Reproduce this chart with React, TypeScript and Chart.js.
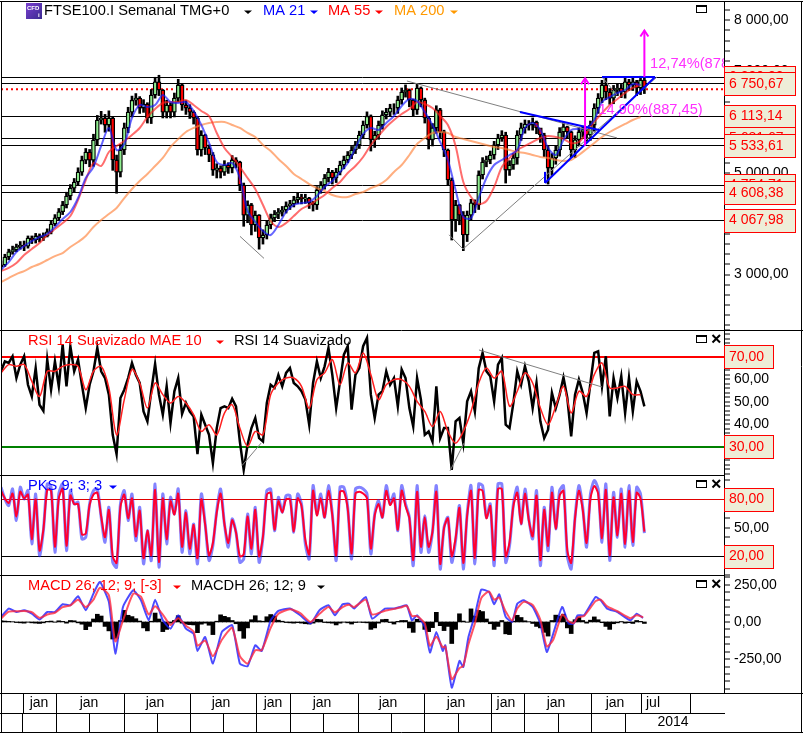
import React, { useEffect, useRef } from "react";
import { Chart, registerables } from "chart.js";

Chart.register(...registerables);

// ---------- time axis (weeks from the left edge of the panes) ----------
const weekMax = 563;
const halfYearTicks = [17.5, 43.6, 95.8, 147.2, 199.3, 225.8, 278, 329.4, 381.6, 407.3, 460.2, 498.4, 537.3];
const quarterTicks = [17.1, 43.6, 69.3, 95.8, 121.5, 147.2, 173.6, 199.3, 225.8, 251.5, 278, 303.7, 329.4, 355.9, 381.6, 407.3, 433.8, 460.2, 486.6];
const monthLabels = ["jan", "jan", "jan", "jan", "jan", "jan", "jan", "jan", "jan", "jan", "jan", "jul"];
const monthLabelWeeks = [29.6, 68.5, 119.9, 171.3, 211.8, 250, 301.4, 354.3, 393.2, 432.2, 478.1, 507.7];
const yearLabel = "2014";
const yearLabelWeek = 523.3;

// ---------- price pane ----------
const closes = [3190,3345,3450,3485,3545,3580,3560,3720,3680,3760,3720,3760,3840,3995,4115,4235,4370,4545,4700,4820,5015,5250,5410,5250,5647,6040,6080,5940,6080,5255,5015,5450,5885,6195,6430,6470,6275,6355,6080,6530,6790,6630,6195,6335,6195,6470,6730,6335,6275,6195,6080,5450,5745,5490,5355,5055,5095,5015,5155,5095,5255,5215,4760,4170,4370,3975,4170,3720,3780,3975,4115,4190,4230,4270,4350,4390,4470,4525,4490,4505,4410,4370,4665,4760,4900,5015,4900,5015,5155,5255,5350,5450,5550,5745,5940,6115,5650,5745,5940,6140,6195,6275,6275,6435,6590,6630,6435,6240,6670,6435,6080,5650,5885,6240,5805,5450,4860,4075,4370,4170,3780,4170,4410,4370,4960,5215,5255,5350,5550,5685,5745,5055,5155,5295,5745,5885,5960,5940,6000,5885,5745,5450,5095,5295,5450,5805,5905,5805,5450,5650,5805,5845,5745,5940,6275,6470,6730,6590,6470,6630,6670,6590,6790,6730,6790,6670,6825,6680];
const highs = [3270,3400,3500,3560,3600,3650,3660,3760,3760,3810,3800,3820,3900,4060,4180,4300,4440,4620,4770,4890,5100,5330,5480,5460,5760,6130,6210,6150,6220,6100,5350,5560,5980,6290,6510,6560,6500,6440,6380,6640,6880,6920,6640,6430,6380,6570,6840,6760,6420,6340,6220,6100,5830,5760,5550,5400,5180,5140,5240,5200,5340,5300,5230,4800,4450,4400,4250,4180,3880,4050,4190,4260,4300,4340,4430,4460,4540,4600,4580,4580,4520,4440,4730,4830,4970,5090,5050,5090,5230,5330,5420,5520,5620,5820,6020,6200,6140,5820,6020,6220,6270,6350,6360,6510,6670,6730,6650,6450,6750,6690,6470,6100,5970,6320,6270,5840,5470,4900,4460,4380,4240,4250,4480,4470,5040,5300,5330,5430,5620,5760,5830,5800,5240,5380,5830,5980,6040,6030,6080,6020,5840,5780,5520,5380,5530,5890,5990,5920,5820,5730,5890,5920,5860,6020,6360,6560,6820,6880,6660,6720,6760,6740,6880,6840,6880,6820,6900,6880];
const lows = [3100,3160,3290,3400,3450,3500,3470,3520,3610,3620,3640,3670,3740,3800,3960,4070,4180,4310,4470,4620,4750,4950,5180,5120,5130,5550,5960,5800,5820,5050,4600,4920,5360,5790,6100,6330,6170,6190,5980,5970,6470,6520,6080,6080,6080,6100,6400,6230,6150,6070,5960,5350,5330,5360,5220,4950,4900,4900,4950,4990,5000,5100,4650,3950,4020,3780,3850,3500,3600,3700,3900,4040,4100,4150,4210,4280,4330,4400,4390,4400,4300,4250,4280,4600,4680,4820,4780,4810,4960,5080,5200,5280,5380,5480,5680,5880,5430,5500,5660,5860,6060,6120,6150,6170,6350,6490,6300,6120,6150,6300,5980,5470,5530,5780,5680,5320,4760,3680,3850,3980,3470,3650,4080,4220,4280,4880,5120,5180,5270,5460,5620,4800,4950,5070,5170,5640,5780,5840,5840,5770,5600,5320,4780,4950,5170,5330,5700,5680,5300,5300,5530,5700,5620,5640,5820,6170,6380,6440,6350,6360,6520,6480,6470,6620,6620,6520,6540,6560];
const ma21 = [3094,3247,3444,3562,3660,3739,3798,3936,4093,4231,4506,4900,5116,5530,5883,5450,5568,6080,6335,6296,6335,6532,6394,6375,6394,6217,5942,5588,5214,5155,5194,4900,4250,4035,3857,3778,3975,4231,4370,4410,4429,4547,4724,4842,5017,5194,5490,5765,5883,5843,5981,6119,6316,6453,6414,6197,5942,5608,5254,4663,4132,4112,4506,4900,5155,5254,5352,5450,5883,5981,5843,5490,5352,5647,5843,5863,5883,6040,6394,6492,6571,6630,6748,6729];
const ma55 = [3070,3130,3228,3385,3503,3621,3778,3896,4014,4152,4467,4860,5195,5136,5411,5529,5627,5745,5883,6099,6256,6374,6394,6394,6433,6335,6217,6119,5785,5490,5313,5116,4900,4683,4369,4054,3936,4015,4152,4290,4369,4467,4565,4703,4821,4998,5136,5313,5549,5726,5902,6040,6158,6256,6394,6355,6276,6119,5942,5529,4821,4526,4389,4447,4722,5116,5293,5450,5529,5608,5686,5726,5706,5667,5588,5608,5785,6001,6178,6335,6453,6571,6670,6729];
const ma200 = [2854,2932,3011,3070,3149,3208,3287,3365,3424,3542,3641,3759,3936,4073,4191,4310,4506,4683,4840,4978,5136,5293,5509,5666,5804,5883,5942,5981,6001,6001,5942,5883,5785,5706,5549,5431,5273,5136,4978,4880,4781,4702,4644,4565,4526,4526,4584,4624,4703,4762,4860,5018,5155,5352,5568,5686,5785,5804,5785,5706,5667,5627,5588,5549,5509,5490,5450,5411,5391,5352,5313,5293,5254,5234,5254,5352,5470,5588,5706,5804,5883,5962,6040,6099];
const priceLevels = [6880, 6750.67, 6113.14, 5681, 5533.61, 4754.71, 4608.38, 4067.98];
const dottedLevel = 6643;
const priceTagValues = [6880, 6750.67, 6113.14, 5681, 5533.61, 4754.71, 4608.38, 4067.98];
const priceTagTexts = ["6 880,32", "6 750,67", "6 113,14", "5 681,67", "5 533,61", "4 754,71", "4 608,38", "4 067,98"];
const priceTicksMajor = [2000, 3000, 4000, 5000, 6000, 7000, 8000];
const priceTickLabels = [3000, 4000, 5000, 6000, 7000, 8000];
const blueSegments = [
  [404.1, 6197, 465.7, 5843],
  [468, 6886, 509.3, 6886],
  [423.6, 4803, 509.3, 6886],
  [423.6, 4803, 423.6, 5020],
];
const greySegments = [
  [316.1, 6807, 479.7, 5687],
  [359.8, 3503, 510.8, 6886],
  [186.1, 3752, 204.8, 3319],
  [348.9, 3782, 359.8, 3503],
  [468, 6886, 479.7, 6532],
];
const arrowSegments = [
  [501, 6886, 501, 7800],
  [454.8, 5533, 454.8, 6860],
];
const arrowNotes = ["12,74%(878", "14,90%(887,45)"];
const arrowNoteWeeks = [505.4, 465.2];
const arrowNotePrices = [7150, 6238];

// ---------- RSI pane ----------
const rsi = [63.6,68,67.3,70.3,60.6,66.6,70.3,57.6,52.4,65,48.7,46,68.8,55.4,68,56.9,75.5,56.9,74.8,63.6,68.8,57.6,47.2,57.6,63.6,74,63.6,60.6,53.2,35.3,26.7,51.7,55.4,60.6,67.3,62,58.4,45.7,41.3,54.7,66.9,53.2,44.2,56.9,40.5,54.7,60.6,44.6,49.5,45.7,43.5,26.7,44.3,39.8,35.3,22.7,38.3,47.2,48,47.2,51.4,48,32.3,19.7,30.9,38.3,42.8,33.8,32.3,49.5,57.6,56.2,62,56.9,62.9,65.1,58.4,56.9,54.7,51,39.8,58.4,68,60.6,65.8,74,62,47.2,59.1,71,74.8,46.5,62,65,74.8,78.5,53.2,42.8,53.2,54.7,63.6,57.6,60.6,48,64.4,60.6,47.2,39,60.6,51,35.3,36.8,32.3,56.9,33.8,38.3,38.3,19.7,41.3,42.8,31.6,50.2,54.7,45.7,65,71.8,63.6,61.4,50.2,66.6,69.6,39.8,38.3,49.5,63.6,57.6,65.8,59.1,47.2,58.4,41.3,33.8,37.6,54,47.2,53.2,60.9,51.7,34.6,53.2,59.9,54,45,58.4,71.8,72.5,56.9,70.3,43.5,60.6,51.7,61.4,45,60.6,45.7,59.1,54.7,48];
const rsiAverage = [62.9,66.6,65.8,66.6,59.1,52.4,63.6,63.6,65.8,66.6,65.8,55.4,63.6,65.8,56.2,35.3,51,64.4,58.4,47.2,58.4,53.2,49.5,52.4,49.5,44.3,36.8,39.8,35.3,45,48.7,38.3,30.1,36.8,35.3,53.2,58.4,60.6,60.6,56.9,47.2,59.9,62.9,68.8,57.6,67.3,62.9,71.8,62.1,51,57.6,59.9,59.9,56.9,50.2,45.7,39,45.7,36.8,31.6,36.8,45.7,58.4,65.1,60.6,63.6,48,54.7,62.9,58.4,47.2,39.8,48,56.9,45,54.7,52.4,62.1,67.3,56.2,56.2,56.9,53.2,53.2];
const rsiGreySegments = [
  [187.7, 21.6, 202.5, 31.6],
  [349.6, 19.2, 360.5, 31.6],
  [372.2, 73.1, 468, 56.6],
];
const rsiTicksMajor = [20, 30, 40, 50, 60, 70, 80];
const rsiTickLabels = [40, 50, 60];

// ---------- PKS pane ----------
const pksFast = [92.7,80.4,73.4,90.9,57.6,92.7,80.4,89.2,33,85.6,20.7,47,96.2,92.7,24.2,85.6,96.2,26,89.2,75.1,76.9,38.3,40,75.1,89.2,90.9,61,34.8,71.6,13.7,8.5,75.1,89.2,57.6,85.6,36.5,71.6,12,47,15.5,96.2,8.5,85.6,33,82.1,64.6,90.9,24.2,68.1,22.5,54,12,85.6,54,15.5,31.3,68.1,90.9,54,29.5,59.3,45.3,13.7,17.2,64.6,22.5,71.6,13.7,40,89.2,90.9,47,82.1,66.3,83.9,83.9,45.3,85.6,75.1,33,17.2,94.4,64.6,85.6,61,94.4,64.6,15.5,92.7,92.7,71.6,17.2,90.9,92.7,90.9,85.6,22.5,64.6,78.6,61,94.4,75.1,85.6,47,94.4,75.1,61,10.2,94.4,24.2,62.8,24.2,45.3,94.4,6.7,50.6,61,13.7,36.5,73.4,6.7,64.6,94.4,12,96.2,94.4,61,75.1,10.2,96.2,96.2,13.7,31.3,75.1,92.7,54,90.9,59.3,38.3,89.2,10.2,71.6,26,92.7,48.8,89.2,94.4,20.7,6.7,61,94.4,71.6,29.5,85.6,99.7,90.9,34.8,96.2,15.5,87.4,40,90.9,29.5,94.4,31.3,92.7,85.6,44.3];
const pksSlow = [89,81,76,86,62,88,81,85,38,80,26,48,90,89,30,81,91,31,84,75,75,43,44,74,85,87,62,40,69,20,13,72,85,60,81,41,68,18,47,21,90,14,81,38,78,64,86,30,66,28,53,18,80,53,21,34,66,86,54,34,58,45,20,22,62,28,69,20,41,85,87,48,78,66,80,80,46,81,73,37,22,89,63,81,61,89,63,21,88,88,70,23,86,88,86,81,28,63,75,61,89,74,81,48,89,73,60,16,88,30,61,30,46,88,12,50,60,20,39,71,13,63,89,18,90,89,60,73,16,91,91,20,35,73,87,54,86,58,41,84,16,69,31,87,49,84,89,26,13,60,89,69,34,81,94,86,39,90,21,82,42,86,33,89,35,87,81,46];
const pksUpper = 80;
const pksLower = 20;
const pksTicksMajor = [0, 20, 50, 80, 100];
const pksTickLabels = [50];

// ---------- MACD pane ----------
const macdWeeks = [0,6,12,18,24,30,36,42,48,54,60,66,72,77,84,89,95,103,109,115,120,126,132,138,144,150,153,159,165,172,180,186,192,198,203,210,216,225,233,241,248,255,260,266,271,275,284,289,299,306,311,316,320,324,330,334,339,344,346,351,357,360,364,369,374,380,384,388,393,398,402,407,414,420,425,430,437,442,446,449,454,463,467,472,480,490,495,500];
const macdLine = [34,90,67,79,56,16,67,67,119,112,173,79,191,269,135,-213,101,213,146,11,150,11,-45,45,-45,-79,-195,-101,-280,-67,-22,-280,-298,-157,-195,11,74,90,45,-11,79,112,45,119,123,90,168,22,90,90,101,112,11,45,-34,-206,-67,-195,-157,-442,-262,-303,-101,45,218,202,119,186,34,0,123,146,101,-11,-202,-79,101,-11,-11,45,45,168,146,90,67,11,56,27];
const macdSignal = [22,70,72,74,66,28,50,62,100,112,150,100,150,230,180,-130,10,190,170,50,105,50,-20,25,-25,-65,-160,-125,-230,-120,-40,-230,-280,-190,-190,-40,55,85,60,0,55,100,65,100,115,100,150,50,75,88,97,108,40,40,-10,-160,-100,-170,-165,-385,-310,-295,-150,-10,160,205,150,165,70,10,90,135,115,15,-165,-120,50,5,-8,30,40,140,150,105,72,25,45,32];
const macdHistogram = [8,6,4,2,-4,-6,-8,-2,-6,-8,-10,-6,4,6,-2,8,4,-8,10,8,-6,-15,-52,-30,20,52,40,-30,-60,-115,-110,10,78,45,36,22,6,-40,-60,5,60,20,-65,-50,-8,10,42,-8,-15,-18,-20,-72,-15,-8,-22,-85,5,48,38,30,10,-12,-60,-110,-40,15,42,8,5,35,50,40,12,5,-4,-6,-8,-5,-8,-12,-14,-8,18,16,-4,-6,-8,-20,-8,-2,-6,-14,-4,-2,-4,-6,-50,-40,-8,16,18,-4,-14,4,10,10,-40,-70,18,6,-50,-65,-38,65,-25,-58,-30,-145,-50,55,6,-2,88,40,78,70,20,-12,-50,-30,10,-80,-85,5,45,30,8,2,-10,-30,-40,-70,-95,10,46,40,52,-40,-78,15,34,10,-8,12,34,15,-5,-30,-50,-12,-6,3,-8,-5,-10,10,4,-10];
const macdTicksMajor = [-450, -250, 0, 250];
const macdTickLabels = [-250, 0, 250];

// ---------- legend texts ----------
const priceTitle = "FTSE100.I Semanal TMG+0";

const candleStep = 3;
const averageStep = 6;
const FONT = "Liberation Sans, Arial, sans-serif";
const tickFont = { family: FONT, size: 14 };

const fmt = (v: number) => {
  const neg = v < 0;
  const [i, d] = Math.abs(v).toFixed(2).split(".");
  return (neg ? "-" : "") + i.replace(/\B(?=(\d{3})+$)/g, " ") + "," + d;
};

const line = (yAxisID: string, data: any[], color: string, width: number, order: number, extra: any = {}) => ({
  type: "line",
  yAxisID,
  data,
  borderColor: color,
  backgroundColor: color,
  borderWidth: width,
  pointRadius: 0,
  order,
  ...extra,
});
const flat = (v: number) => [{ x: 0, y: v }, { x: weekMax, y: v }];
const segment = (s: number[]) => [{ x: s[0], y: s[1] }, { x: s[2], y: s[3] }];
const byStep = (arr: number[], step: number) => arr.map((y, i) => ({ x: i * step, y }));

type Level = { value: number; color: string; width: number };

const yScale = (stackWeight: number, weight: number, min: number, max: number, minor: number, major: number[], labels: number[], levels: Level[] = []) => {
  const levelOf = (v: number) => levels.find((l) => l.value === v);
  return {
    type: "linear",
    position: "right",
    stack: "panes",
    stackWeight,
    weight,
    min,
    max,
    border: { display: true, color: "#000", width: 1 },
    grid: {
      drawOnChartArea: true,
      color: (c: any) => levelOf(c.tick?.value)?.color ?? "rgba(0,0,0,0)",
      lineWidth: (c: any) => levelOf(c.tick?.value)?.width ?? 0,
      tickColor: "#000",
      tickLength: 6,
      tickWidth: 1,
    },
    ticks: {
      autoSkip: false,
      color: "#000",
      font: tickFont,
      padding: 4,
      align: "center",
      crossAlign: "near",
      maxRotation: 0,
      callback: (v: number) => (labels.includes(v) ? fmt(v) : ""),
    },
    afterBuildTicks: (s: any) => {
      const set = new Set<number>(major);
      levels.forEach((l) => set.add(l.value));
      for (let v = Math.ceil(min / minor) * minor; v <= max; v += minor) set.add(Math.round(v * 100) / 100);
      s.ticks = [...set].sort((a, b) => a - b).map((value) => ({ value }));
    },
    afterFit: (s: any) => {
      s.width = 79;
      s.paddingTop = 0;
      s.paddingBottom = 0;
    },
  };
};

const xScale = (weight: number, height: number, ticks: number[]) => ({
  type: "linear",
  position: "bottom",
  offset: false,
  weight,
  min: 0,
  max: weekMax,
  border: { display: true, color: "#000", width: 1 },
  grid: { offset: false, drawOnChartArea: false, color: "#000", tickLength: height, tickWidth: 1 },
  ticks: { autoSkip: false, callback: () => "", maxRotation: 0, padding: 0, font: { size: 1 } },
  afterBuildTicks: (s: any) => {
    s.ticks = ticks.map((value) => ({ value }));
  },
  afterFit: (s: any) => {
    s.height = height;
    s.paddingLeft = 0;
    s.paddingRight = 0;
  },
});

const triangle = (ctx: CanvasRenderingContext2D, x: number, y: number, color: string) => {
  ctx.fillStyle = color;
  ctx.beginPath();
  ctx.moveTo(x - 4, y - 1.5);
  ctx.lineTo(x + 4, y - 1.5);
  ctx.lineTo(x, y + 2);
  ctx.closePath();
  ctx.fill();
};

const panelIcons = (ctx: CanvasRenderingContext2D, y: number, close: boolean) => {
  ctx.strokeStyle = "#000";
  ctx.lineWidth = 1;
  ctx.strokeRect(696.5, y + 0.5, 10, 7);
  ctx.beginPath();
  ctx.moveTo(696.5, y + 1.5);
  ctx.lineTo(706.5, y + 1.5);
  ctx.stroke();
  if (close) {
    ctx.lineWidth = 2;
    ctx.beginPath();
    ctx.moveTo(712.5, y);
    ctx.lineTo(720, y + 7.5);
    ctx.moveTo(720, y);
    ctx.lineTo(712.5, y + 7.5);
    ctx.stroke();
  }
};

const tag = (ctx: CanvasRenderingContext2D, cy: number, text: string, width: number) => {
  const top = Math.round(cy - 11.5) + 0.5;
  ctx.fillStyle = "#eeeed8";
  ctx.fillRect(724, top, width, 23);
  ctx.strokeStyle = "#ff0000";
  ctx.lineWidth = 1;
  ctx.strokeRect(724.5, top, width, 23);
  ctx.fillStyle = "#ff0000";
  ctx.textAlign = "left";
  ctx.textBaseline = "middle";
  ctx.fillText(text, 729, cy);
};

const framePlugin = {
  id: "frame",
  beforeDraw(chart: any) {
    const { ctx, width, height } = chart;
    ctx.save();
    ctx.fillStyle = "#fff";
    ctx.fillRect(0, 0, width, height);
    ctx.restore();
  },
  afterDraw(chart: any) {
    const { ctx, scales } = chart;
    const { x, yPrice, yRsi, yPks, yMacd } = scales;
    ctx.save();
    ctx.font = `14px ${FONT}`;

    // arrow heads and notes
    ctx.strokeStyle = "#ff00ff";
    ctx.lineWidth = 2;
    arrowSegments.forEach((s) => {
      const px = x.getPixelForValue(s[2]);
      const py = yPrice.getPixelForValue(s[3]);
      ctx.beginPath();
      ctx.moveTo(px - 4, py + 6);
      ctx.lineTo(px, py);
      ctx.lineTo(px + 4, py + 6);
      ctx.stroke();
    });
    ctx.save();
    ctx.beginPath();
    ctx.rect(0, 0, 724, 330);
    ctx.clip();
    ctx.fillStyle = "#ff30ff";
    ctx.textAlign = "left";
    ctx.textBaseline = "middle";
    ctx.font = `14.67px ${FONT}`;
    arrowNotes.forEach((t, i) => {
      ctx.fillText(t, x.getPixelForValue(arrowNoteWeeks[i]), yPrice.getPixelForValue(arrowNotePrices[i]));
    });
    ctx.restore();

    // pane frames
    ctx.strokeStyle = "#000";
    ctx.lineWidth = 1;
    const hline = (y: number, to: number) => {
      ctx.beginPath();
      ctx.moveTo(0, y + 0.5);
      ctx.lineTo(to, y + 0.5);
      ctx.stroke();
    };
    hline(1, 803);
    hline(Math.round(yPrice.bottom), 803);
    hline(Math.round(yRsi.bottom), 724);
    hline(Math.round(yPks.bottom), 724);
    hline(Math.round(yMacd.bottom), 803);
    hline(713, 724);
    hline(732, 803);
    ctx.beginPath();
    ctx.moveTo(1.5, 1);
    ctx.lineTo(1.5, 732);
    ctx.moveTo(801.5, 1);
    ctx.lineTo(801.5, 732);
    ctx.stroke();

    // price tags
    ctx.font = `14px ${FONT}`;
    priceTagValues.forEach((v, i) => tag(ctx, yPrice.getPixelForValue(v), priceTagTexts[i], 71));
    tag(ctx, yRsi.getPixelForValue(70), "70,00", 49);
    tag(ctx, yRsi.getPixelForValue(30), "30,00", 49);
    tag(ctx, yPks.getPixelForValue(pksUpper), "80,00", 49);
    tag(ctx, yPks.getPixelForValue(pksLower), "20,00", 49);

    // pane legends
    ctx.font = `14.67px ${FONT}`;
    ctx.textAlign = "left";
    ctx.textBaseline = "middle";
    const text = (t: string, tx: number, ty: number, color: string) => {
      ctx.fillStyle = color;
      ctx.fillText(t, tx, ty);
    };
    const g = ctx.createLinearGradient(26, 3, 42, 19);
    g.addColorStop(0, "#7a3fd0");
    g.addColorStop(1, "#3a2a90");
    ctx.fillStyle = g;
    ctx.fillRect(26, 3, 16, 16);
    ctx.save();
    ctx.font = `bold 6px ${FONT}`;
    ctx.fillStyle = "#fff";
    ctx.fillText("CFD", 27, 8);
    ctx.fillText("i", 38, 15);
    ctx.restore();
    text(priceTitle, 44, 11, "#000");
    triangle(ctx, 248, 12, "#000");
    text("MA 21", 263, 11, "#0000ff");
    triangle(ctx, 314, 12, "#0000ff");
    text("MA 55", 328, 11, "#ff0000");
    triangle(ctx, 379, 12, "#ff0000");
    text("MA 200", 394, 11, "#ff9900");
    triangle(ctx, 454, 12, "#ff9900");
    panelIcons(ctx, 5, false);

    text("RSI 14 Suavizado MAE 10", 28, 341, "#ff0000");
    triangle(ctx, 220, 342, "#ff0000");
    text("RSI 14 Suavizado", 234, 341, "#000");
    panelIcons(ctx, 335, true);

    text("PKS 9; 3; 3", 28, 486, "#0000ff");
    triangle(ctx, 113, 487, "#0000ff");
    panelIcons(ctx, 480, true);

    text("MACD 26; 12; 9; [-3]", 28, 586, "#ff0000");
    triangle(ctx, 177, 587, "#ff0000");
    text("MACDH 26; 12; 9", 191, 586, "#000");
    triangle(ctx, 321, 587, "#000");
    panelIcons(ctx, 580, true);

    // time labels
    ctx.font = `14px ${FONT}`;
    ctx.fillStyle = "#000";
    ctx.textAlign = "center";
    monthLabels.forEach((t, i) => ctx.fillText(t, x.getPixelForValue(monthLabelWeeks[i]), 703));
    ctx.fillText(yearLabel, x.getPixelForValue(yearLabelWeek), 722);
    ctx.restore();
  },
};

export default function App() {
  const ref = useRef<HTMLCanvasElement | null>(null);
  useEffect(() => {
    document.body.style.margin = "0";
    const wicks = closes.map((_, i) => ({ x: i * candleStep, y: [lows[i], highs[i]] }));
    const bodies = closes.map((c, i) => {
      const o = i ? closes[i - 1] : c - 40;
      return { x: i * candleStep, y: [Math.min(o, c), Math.max(o, c)] };
    });
    const bodyColors = closes.map((c, i) => (c >= (i ? closes[i - 1] : c - 40) ? "#90ee90" : "#ff0000"));

    const datasets: any[] = [
      line("yPrice", flat(dottedLevel), "#ff0000", 2, 59, { borderDash: [2, 3] }),
      {
        type: "bar", yAxisID: "yPrice", data: wicks, backgroundColor: "#000", barThickness: 2,
        grouped: false, order: 50,
      },
      {
        type: "bar", yAxisID: "yPrice", data: bodies, backgroundColor: bodyColors, borderColor: "#000",
        borderWidth: 1.3, borderSkipped: false, barThickness: 4, grouped: false, order: 49,
      },
      line("yPrice", byStep(ma200, averageStep), "rgba(255,130,60,0.65)", 2, 40, { tension: 0.3 }),
      line("yPrice", byStep(ma55, averageStep), "rgba(255,30,30,0.65)", 2, 39, { tension: 0.3 }),
      line("yPrice", byStep(ma21, averageStep), "rgba(20,20,255,0.65)", 2, 38, { tension: 0.3 }),
      ...greySegments.map((s) => line("yPrice", segment(s), "#808080", 1, 30)),
      ...blueSegments.map((s) => line("yPrice", segment(s), "#0000ff", 2, 29)),
      ...arrowSegments.map((s) => line("yPrice", segment(s), "#ff00ff", 2, 28)),

      line("yRsi", byStep(rsi, candleStep), "#000", 2.5, 40),
      line("yRsi", byStep(rsiAverage, averageStep), "#ff2020", 1.5, 39, { tension: 0.3 }),
      ...rsiGreySegments.map((s) => line("yRsi", segment(s), "#808080", 1, 30)),

      line("yPks", byStep(pksFast, candleStep), "rgba(30,30,255,0.55)", 3, 40, { tension: 0.25 }),
      line("yPks", byStep(pksSlow, candleStep), "#ff0030", 2, 39, { tension: 0.25 }),

      {
        type: "bar", yAxisID: "yMacd", data: byStep(macdHistogram, candleStep), backgroundColor: "#000",
        barThickness: 4, grouped: false, order: 50,
      },
      line("yMacd", macdLine.map((y, i) => ({ x: macdWeeks[i], y })), "rgba(30,30,255,0.8)", 2, 40, { tension: 0.15 }),
      line("yMacd", macdSignal.map((y, i) => ({ x: macdWeeks[i], y })), "rgba(255,40,60,0.8)", 2, 39, { tension: 0.2 }),
    ];

    const priceLevelLines = priceLevels.map((value) => ({ value, color: "#000", width: 1 }));
    const rsiLevelLines = [
      { value: 70, color: "#ff0000", width: 2 },
      { value: 30, color: "#008000", width: 2 },
    ];
    const pksLevelLines = [
      { value: pksUpper, color: "#e00000", width: 1 },
      { value: pksLower, color: "#000", width: 1 },
    ];

    const chart = new Chart(ref.current as HTMLCanvasElement, {
      data: { datasets },
      plugins: [framePlugin],
      options: {
        animation: false,
        responsive: false,
        devicePixelRatio: 1,
        layout: { padding: { left: 1, top: 1, right: 0, bottom: 1 } },
        plugins: { legend: { display: false }, tooltip: { enabled: false } },
        events: [],
        scales: {
          x: xScale(0, 20, halfYearTicks),
          xDates: xScale(1, 19, quarterTicks),
          yPrice: yScale(329, 1, 1910.6, 8380, 200, priceTicksMajor, priceTickLabels, priceLevelLines),
          yRsi: yScale(145, 2, 17.4, 82, 2, rsiTicksMajor, rsiTickLabels, rsiLevelLines),
          yPks: yScale(100, 3, 0.3, 105.6, 10, pksTicksMajor, pksTickLabels, pksLevelLines),
          yMacd: yScale(118, 4, -478, 316, 50, macdTicksMajor, macdTickLabels),
        },
      } as any,
    } as any);
    return () => chart.destroy();
  }, []);
  return <canvas ref={ref} width={803} height={733} style={{ display: "block" }} />;
}
